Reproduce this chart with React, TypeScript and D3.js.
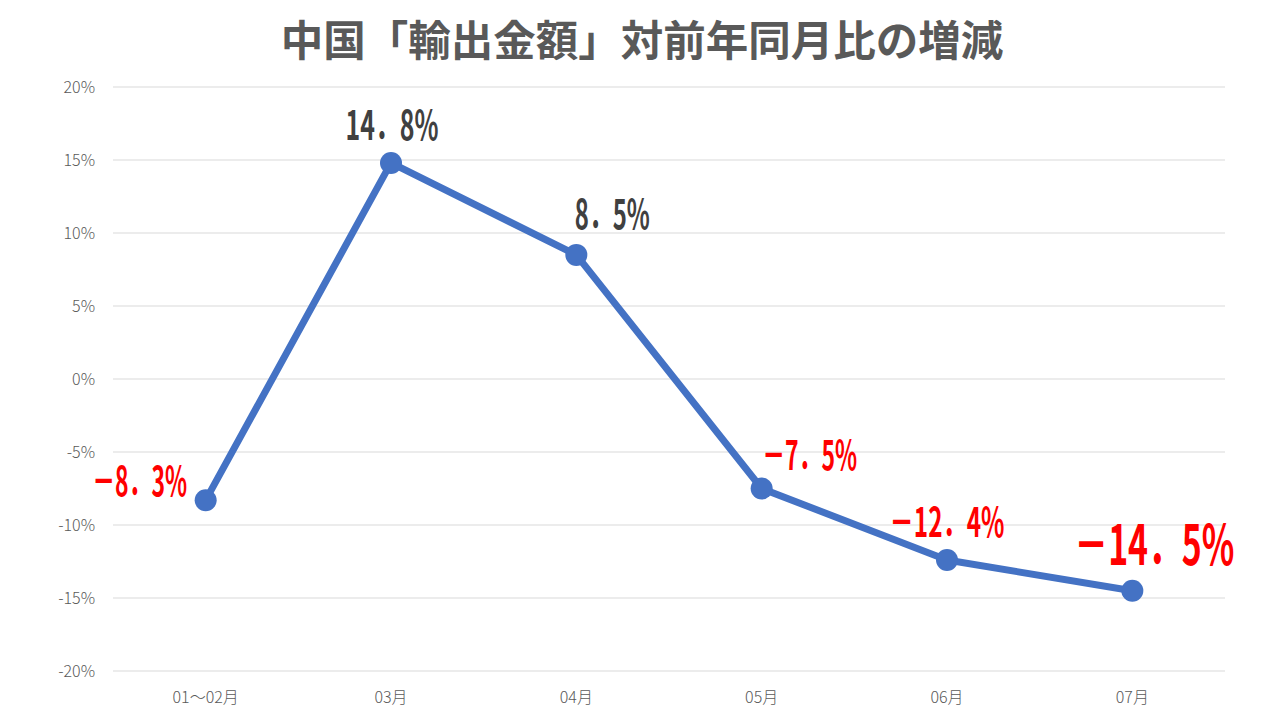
import React, { useLayoutEffect, useRef, useState } from "react";
import * as d3 from "d3";

const title = "中国「輸出金額」対前年同月比の増減";
const categories = ["01～02月", "03月", "04月", "05月", "06月", "07月"];
const values = [-8.3, 14.8, 8.5, -7.5, -12.4, -14.5];
const yTicks = [-20, -15, -10, -5, 0, 5, 10, 15, 20];

const W = 1280;
const H = 720;
const margin = { left: 113, right: 55, top: 87, bottom: 49 };

// label layout per point: offset, font size, target text width
const labelLayout = [
  { dx: -66, dy: -4, size: 41, len: 95 },
  { dx: 1, dy: -23, size: 41, len: 93 },
  { dx: 36, dy: -26, size: 41, len: 75 },
  { dx: 48, dy: -19, size: 41, len: 95 },
  { dx: 0, dy: -23, size: 41, len: 115 },
  { dx: 22, dy: -26, size: 56, len: 160 },
];

function fmt(v: number): string {
  const s = Math.abs(v).toFixed(1).replace(".", "．");
  return (v < 0 ? "－" : "") + s + "%";
}

export default function App() {
  const refs = useRef<(SVGTextElement | null)[]>([]);
  const [scales, setScales] = useState<number[]>(values.map(() => 0.64));

  useLayoutEffect(() => {
    const s = refs.current.map((el, i) => {
      if (!el) return 0.64;
      const w = el.getComputedTextLength();
      return w > 0 ? labelLayout[i].len / w : 0.64;
    });
    setScales(s);
  }, []);

  const x = d3
    .scalePoint<string>()
    .domain(categories)
    .range([margin.left, W - margin.right])
    .padding(0.5);
  const y = d3
    .scaleLinear()
    .domain([-20, 20])
    .range([H - margin.bottom, margin.top]);

  const line = d3
    .line<number>()
    .x((_, i) => x(categories[i]) as number)
    .y((d) => y(d));

  return (
    <svg
      width={W}
      height={H}
      style={{ position: "absolute", left: 0, top: 0, background: "#fff" }}
    >
      <rect width={W} height={H} fill="#fff" />
      <text
        x={642}
        y={56}
        textAnchor="middle"
        fontFamily="'Noto Sans CJK JP', sans-serif"
        fontWeight="bold"
        fontSize={42.5}
        fill="#595959"
      >
        {title}
      </text>
      {yTicks.map((t) => (
        <g key={t}>
          <line
            x1={margin.left}
            x2={W - margin.right}
            y1={y(t)}
            y2={y(t)}
            stroke="#d9d9d9"
            strokeWidth={1}
          />
          <text
            x={95}
            y={y(t) + 6}
            textAnchor="end"
            fontFamily="'Noto Sans CJK JP', sans-serif"
            fontWeight={300}
            fontSize={16}
            fill="#595959"
          >
            {t + "%"}
          </text>
        </g>
      ))}
      {categories.map((c) => (
        <text
          key={c}
          x={x(c)}
          y={703}
          textAnchor="middle"
          fontFamily="'Noto Sans CJK JP', sans-serif"
          fontWeight={300}
          fontSize={16}
          fill="#595959"
        >
          {c}
        </text>
      ))}
      <path
        d={line(values) || ""}
        fill="none"
        stroke="#4472C4"
        strokeWidth={7}
        strokeLinejoin="round"
      />
      {values.map((v, i) => (
        <circle
          key={i}
          cx={x(categories[i])}
          cy={y(v)}
          r={11}
          fill="#4472C4"
        />
      ))}
      {values.map((v, i) => {
        const l = labelLayout[i];
        const cx = (x(categories[i]) as number) + l.dx;
        return (
          <g
            key={"l" + i}
            transform={`translate(${cx},${y(v) + l.dy}) scale(${scales[i]},1)`}
          >
            <text
              ref={(el) => {
                refs.current[i] = el;
              }}
              x={0}
              y={0}
              textAnchor="middle"
              fontFamily="'Noto Sans CJK JP', sans-serif"
              fontWeight="bold"
              fontSize={l.size}
              fill={v < 0 ? "#FF0000" : "#404040"}
            >
              {fmt(v)}
            </text>
          </g>
        );
      })}
    </svg>
  );
}
